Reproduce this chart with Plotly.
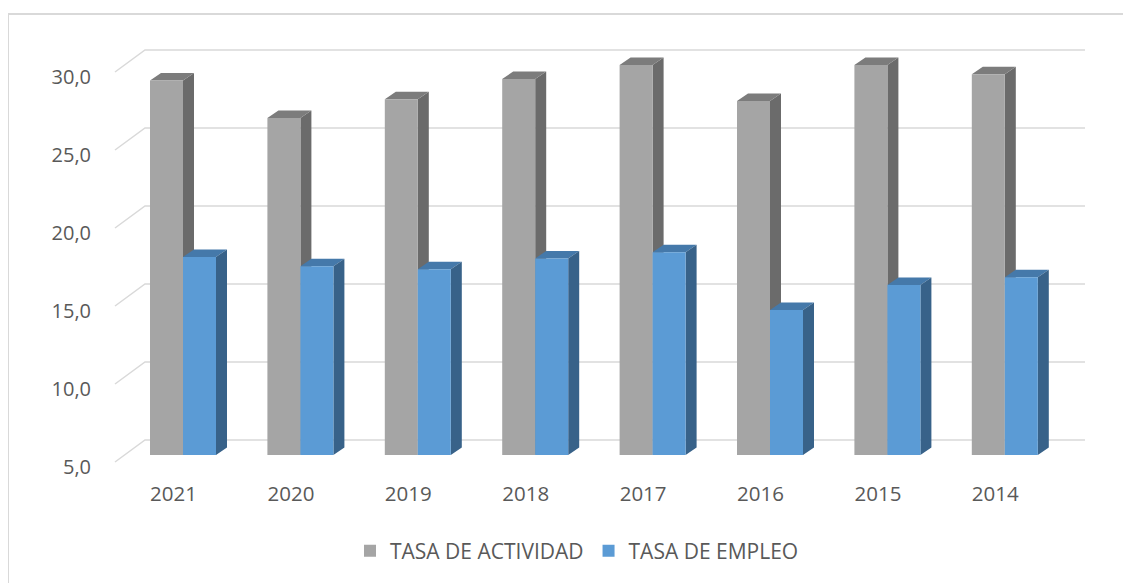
import plotly.graph_objs as go

# data
years = ['2021', '2020', '2019', '2018', '2017', '2016', '2015', '2014']
tasa_actividad = [29.0, 26.6, 27.8, 29.1, 30.0, 27.7, 30.0, 29.4]
tasa_empleo = [17.7, 17.1, 16.9, 17.6, 18.0, 14.3, 15.9, 16.4]
y_ticks = [5, 10, 15, 20, 25, 30]

# pseudo-3D geometry (Excel style column chart), pixel based.
# the page body has an 8px margin, so positions are measured minus 8
PAD = 8
W_PX, H_PX = 1131 - PAD, 583 - PAD
PLOT_L, PLOT_R, PLOT_T, PLOT_B = 100 - PAD, 1095 - PAD, 40 - PAD, 470 - PAD
X0_PX, STEP_PX = 183 - PAD, 117.4     # centre of first pair, spacing between pairs
BASE_PX, UNIT_PX = 455 - PAD, 15.6    # pixel of value 5 on bar fronts, px per unit
BASE = 5

def xu(px):
    return (px - X0_PX) / STEP_PX

def yu(px):
    return BASE + (BASE_PX - px) / UNIT_PX

BAR_W = 33 / STEP_PX
DX = 11 / STEP_PX
DY = 7.5 / UNIT_PX
GRID_DY = 15 / UNIT_PX               # back wall offset
WALL_L, WALL_R, FRONT_L = xu(145 - PAD), xu(1085 - PAD), xu(115 - PAD)
LABEL_DY = -0.77
XLABEL_DX = -9.5 / STEP_PX

idx = list(range(len(years)))
x_range = [xu(PLOT_L), xu(PLOT_R)]
y_range = [yu(PLOT_B), yu(PLOT_T)]

grey, grey_side, grey_top = '#a5a5a5', '#6b6b6b', '#7c7c7c'
blue, blue_side, blue_top = '#5b9bd5', '#386289', '#4579aa'

def polys(pts_fn):
    xs, ys = [], []
    for i in idx:
        pts = pts_fn(i)
        xs += [p[0] for p in pts] + [None]
        ys += [p[1] for p in pts] + [None]
    return xs, ys

# back wall gridlines with the left wall edge
gx, gy = [], []
for v in y_ticks:
    gx += [FRONT_L, WALL_L, WALL_R, None]
    gy += [v + GRID_DY - 22 / UNIT_PX, v + GRID_DY, v + GRID_DY, None]

data = [go.Scatter(x=gx, y=gy, mode='lines', line=dict(color='#d9d9d9', width=1.5),
                   hoverinfo='skip', showlegend=False)]

faces = [
    (grey_side, lambda i: [(i, tasa_actividad[i]), (i + DX, tasa_actividad[i] + DY),
                           (i + DX, BASE + DY), (i, BASE)]),
    (grey_top, lambda i: [(i - BAR_W, tasa_actividad[i]), (i - BAR_W + DX, tasa_actividad[i] + DY),
                          (i + DX, tasa_actividad[i] + DY), (i, tasa_actividad[i])]),
    (blue_top, lambda i: [(i, tasa_empleo[i]), (i + DX, tasa_empleo[i] + DY),
                          (i + BAR_W + DX, tasa_empleo[i] + DY), (i + BAR_W, tasa_empleo[i])]),
    (blue_side, lambda i: [(i + BAR_W, tasa_empleo[i]), (i + BAR_W + DX, tasa_empleo[i] + DY),
                           (i + BAR_W + DX, BASE + DY), (i + BAR_W, BASE)]),
]
for color, fn in faces:
    fx, fy = polys(fn)
    data.append(go.Scatter(x=fx, y=fy, mode='lines', fill='toself', fillcolor=color,
                           line=dict(width=0, color=color), hoverinfo='skip', showlegend=False))

# front faces of the columns (drawn on an overlaying subplot so they sit on top)
data.append(go.Bar(x=idx, y=[v - BASE for v in tasa_actividad], base=BASE, name='TASA DE ACTIVIDAD',
                   width=BAR_W, offset=-BAR_W, marker=dict(color=grey, line=dict(width=0)),
                   xaxis='x2', yaxis='y2'))
data.append(go.Bar(x=idx, y=[v - BASE for v in tasa_empleo], base=BASE, name='TASA DE EMPLEO',
                   width=BAR_W, offset=0, marker=dict(color=blue, line=dict(width=0)),
                   xaxis='x2', yaxis='y2'))

font = dict(family='Open Sans', size=20, color='#595959')

layout = go.Layout(
    width=W_PX, height=H_PX,
    margin=dict(l=PLOT_L, r=W_PX - PLOT_R, t=PLOT_T, b=H_PX - PLOT_B),
    paper_bgcolor='white', plot_bgcolor='white',
    font=font, barmode='overlay',
    xaxis=dict(range=x_range, showgrid=False, zeroline=False, showline=False,
               tickvals=[i + XLABEL_DX for i in idx], ticktext=years, ticks='',
               ticklabelstandoff=9, tickfont=dict(size=20.5), fixedrange=True),
    yaxis=dict(range=y_range, showgrid=False, zeroline=False, showline=False,
               tickvals=[v + LABEL_DY for v in y_ticks],
               ticktext=[f'{v:.1f}'.replace('.', ',') for v in y_ticks],
               ticks='', ticklabelstandoff=8, fixedrange=True),
    xaxis2=dict(range=x_range, overlaying='x', visible=False, fixedrange=True),
    yaxis2=dict(range=y_range, overlaying='y', visible=False, fixedrange=True),
    legend=dict(orientation='h', x=(577 - 8 - PLOT_L) / (PLOT_R - PLOT_L), xanchor='center',
                y=(PLOT_B - (551 - PAD)) / (PLOT_B - PLOT_T), yanchor='middle',
                font=dict(family='Open Sans', size=21, color='#595959')),
    shapes=[dict(type='rect', xref='paper', yref='paper',
                 x0=(8 - PAD - PLOT_L) / (PLOT_R - PLOT_L), x1=1.2,
                 y0=-0.5, y1=(PLOT_B - (14 - PAD)) / (PLOT_B - PLOT_T),
                 line=dict(color='#d9d9d9', width=2), layer='below')],
)

fig = go.Figure(data=data, layout=layout)
fig.write_html('out.html')
